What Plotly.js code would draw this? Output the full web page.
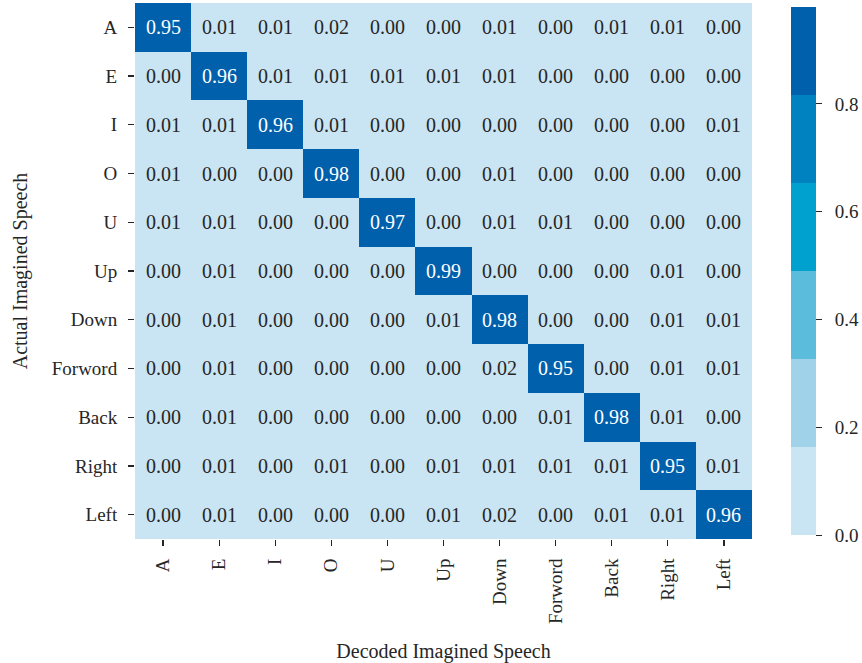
<!DOCTYPE html>
<html>
<head>
<meta charset="utf-8">
<script src="https://cdn.plot.ly/plotly-3.0.1.min.js"></script>
<style>html,body{margin:0;padding:0;background:#fff;}#chart{width:862px;height:663px;}</style>
</head>
<body>
<div id="chart"></div>
<script>
const decoded = ["A","E","I","O","U","Up","Down","Forword","Back","Right","Left"];
const actual  = ["A","E","I","O","U","Up","Down","Forword","Back","Right","Left"];
const rowA       = [0.95,0.01,0.01,0.02,0.00,0.00,0.01,0.00,0.01,0.01,0.00];
const rowE       = [0.00,0.96,0.01,0.01,0.01,0.01,0.01,0.00,0.00,0.00,0.00];
const rowI       = [0.01,0.01,0.96,0.01,0.00,0.00,0.00,0.00,0.00,0.00,0.01];
const rowO       = [0.01,0.00,0.00,0.98,0.00,0.00,0.01,0.00,0.00,0.00,0.00];
const rowU       = [0.01,0.01,0.00,0.00,0.97,0.00,0.01,0.01,0.00,0.00,0.00];
const rowUp      = [0.00,0.01,0.00,0.00,0.00,0.99,0.00,0.00,0.00,0.01,0.00];
const rowDown    = [0.00,0.01,0.00,0.00,0.00,0.01,0.98,0.00,0.00,0.01,0.01];
const rowForword = [0.00,0.01,0.00,0.00,0.00,0.00,0.02,0.95,0.00,0.01,0.01];
const rowBack    = [0.00,0.01,0.00,0.00,0.00,0.00,0.00,0.01,0.98,0.01,0.00];
const rowRight   = [0.00,0.01,0.00,0.01,0.00,0.01,0.01,0.01,0.01,0.95,0.01];
const rowLeft    = [0.00,0.01,0.00,0.00,0.00,0.01,0.02,0.00,0.01,0.01,0.96];
const colorTicks = [0.0,0.2,0.4,0.6,0.8];

const z = [rowA,rowE,rowI,rowO,rowU,rowUp,rowDown,rowForword,rowBack,rowRight,rowLeft];
const bandColors = ["#c9e4f2","#a0d3ea","#5bbcdc","#00a1cf","#0082c0","#0060ac"];
const n = bandColors.length;
const colorscale = [];
bandColors.forEach((c,i)=>{ colorscale.push([i/n,c]); colorscale.push([(i+1)/n,c]); });
const zmax = 0.98;

const serif = "Liberation Serif, Times New Roman, serif";
const annotations = [];
actual.forEach((r,i)=>{
  decoded.forEach((c,j)=>{
    const v = z[i][j];
    annotations.push({x:c, y:r, xref:'x', yref:'y', text:v.toFixed(2), showarrow:false,
      font:{family:serif, size:20, color: v > zmax*0.5 ? '#ffffff' : '#262626'}});
  });
});

const trace = {
  type:'heatmap', x:decoded, y:actual, z:z,
  zmin:0, zmax:zmax, colorscale:colorscale, xgap:0, ygap:0,
  hoverongaps:false,
  colorbar:{
    thickness:25, lenmode:'pixels', len:528, y:1-4/536, yanchor:'top', yref:'paper',
    x:1.0615, xanchor:'left', xpad:0, ypad:0, outlinewidth:0,
    tickvals:colorTicks, ticktext:colorTicks.map(v=>'\u00a0\u00a0'+v.toFixed(1)),
    ticks:'outside', ticklen:6, tickwidth:1, tickcolor:'#262626',
    tickfont:{family:serif, size:19, color:'#262626'}
  }
};

const layout = {
  width:862, height:663,
  margin:{l:135, r:109, t:3, b:124},
  paper_bgcolor:'#ffffff', plot_bgcolor:'#ffffff',
  font:{family:serif, color:'#262626'},
  xaxis:{type:'category', tickangle:-90, ticks:'outside', ticklen:6, tickwidth:1.2, tickcolor:'#262626',
    ticklabelstandoff:5,
    tickfont:{family:serif, size:19, color:'#262626'}, showgrid:false, zeroline:false, showline:false,
    title:{text:'Decoded Imagined Speech', font:{family:serif, size:20, color:'#262626'}, standoff:20}},
  yaxis:{type:'category', autorange:'reversed', ticks:'outside', ticklen:6, tickwidth:1.2, tickcolor:'#262626',
    ticklabelstandoff:7,
    tickfont:{family:serif, size:19, color:'#262626'}, showgrid:false, zeroline:false, showline:false,
    title:{text:'Actual Imagined Speech', font:{family:serif, size:20, color:'#262626'}, standoff:18}},
  annotations:annotations
};

Plotly.newPlot('chart',[trace],layout,{displayModeBar:false, staticPlot:true});
</script>
</body>
</html>
